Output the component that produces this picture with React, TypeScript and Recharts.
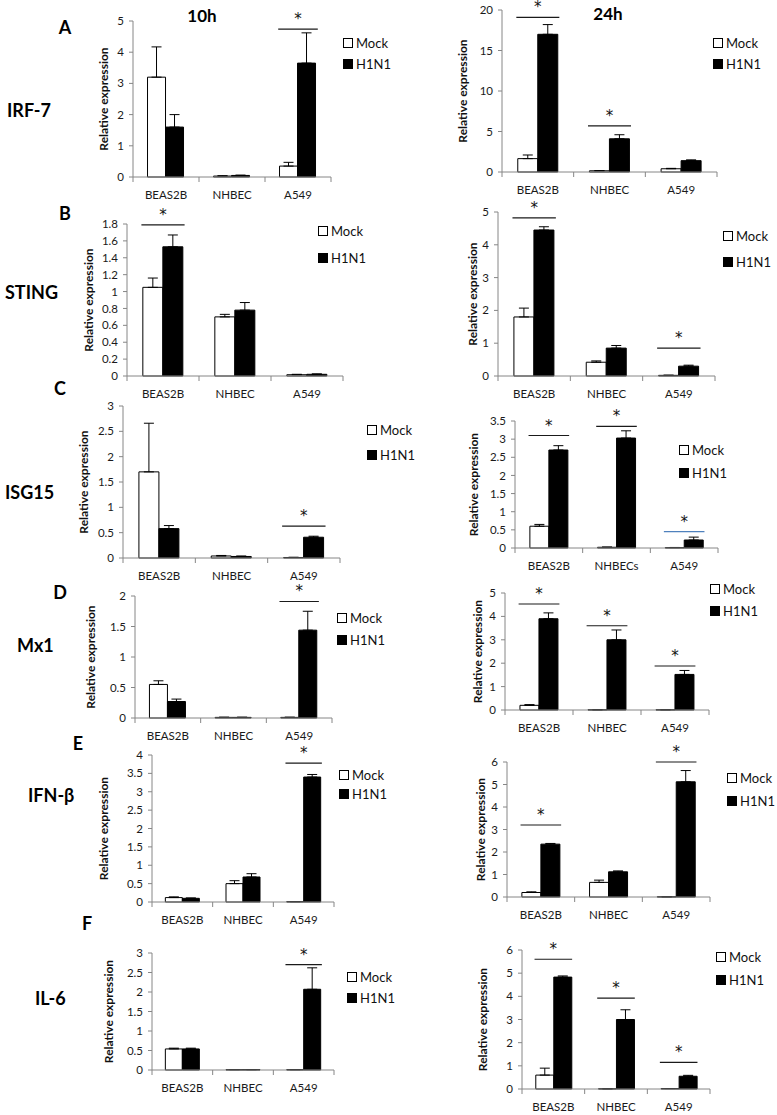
import React from 'react';
import { ComposedChart, Bar, ErrorBar, Scatter, XAxis, YAxis, Legend } from 'recharts';

const CELLS = ['BEAS2B', 'NHBEC', 'A549'];
const CELLS_S = ['BEAS2B', 'NHBECs', 'A549'];

// IRF-7
const irf7_10_mock = [3.2, 0.03, 0.35];
const irf7_10_mockErr = [0.97, 0.01, 0.12];
const irf7_10_h1n1 = [1.6, 0.05, 3.65];
const irf7_10_h1n1Err = [0.4, 0.01, 0.97];
const irf7_10_sig = [null, null, 4.74];
const irf7_24_mock = [1.65, 0.15, 0.4];
const irf7_24_mockErr = [0.45, 0.02, 0.05];
const irf7_24_h1n1 = [17.0, 4.1, 1.4];
const irf7_24_h1n1Err = [1.2, 0.5, 0.1];
const irf7_24_sig = [19.1, 5.7, null];

// STING
const sting_10_mock = [1.05, 0.7, 0.015];
const sting_10_mockErr = [0.11, 0.03, 0.005];
const sting_10_h1n1 = [1.53, 0.78, 0.02];
const sting_10_h1n1Err = [0.14, 0.09, 0.005];
const sting_10_sig = [1.79, null, null];
const sting_24_mock = [1.8, 0.42, 0.02];
const sting_24_mockErr = [0.27, 0.04, 0.005];
const sting_24_h1n1 = [4.45, 0.85, 0.3];
const sting_24_h1n1Err = [0.1, 0.08, 0.03];
const sting_24_sig = [4.82, null, 0.85];

// ISG15
const isg15_10_mock = [1.7, 0.04, 0.01];
const isg15_10_mockErr = [0.96, 0.01, 0.005];
const isg15_10_h1n1 = [0.58, 0.03, 0.41];
const isg15_10_h1n1Err = [0.06, 0.01, 0.02];
const isg15_10_sig = [null, null, 0.63];
const isg15_24_mock = [0.6, 0.02, 0.01];
const isg15_24_mockErr = [0.05, 0.005, 0.005];
const isg15_24_h1n1 = [2.7, 3.03, 0.22];
const isg15_24_h1n1Err = [0.12, 0.2, 0.08];
const isg15_24_sig = [3.1, 3.35, 0.45];

// Mx1
const mx1_10_mock = [0.55, 0.01, 0.01];
const mx1_10_mockErr = [0.06, 0.003, 0.003];
const mx1_10_h1n1 = [0.27, 0.01, 1.44];
const mx1_10_h1n1Err = [0.04, 0.003, 0.31];
const mx1_10_sig = [null, null, 1.91];
const mx1_24_mock = [0.2, 0.01, 0.01];
const mx1_24_mockErr = [0.03, 0, 0];
const mx1_24_h1n1 = [3.9, 3.0, 1.52];
const mx1_24_h1n1Err = [0.25, 0.42, 0.17];
const mx1_24_sig = [4.53, 3.6, 1.88];

// IFN-beta
const ifnb_10_mock = [0.12, 0.5, 0.01];
const ifnb_10_mockErr = [0.02, 0.08, 0];
const ifnb_10_h1n1 = [0.1, 0.68, 3.4];
const ifnb_10_h1n1Err = [0.01, 0.09, 0.07];
const ifnb_10_sig = [null, null, 3.78];
const ifnb_24_mock = [0.2, 0.65, 0.01];
const ifnb_24_mockErr = [0.03, 0.1, 0];
const ifnb_24_h1n1 = [2.35, 1.12, 5.12];
const ifnb_24_h1n1Err = [0.03, 0.04, 0.5];
const ifnb_24_sig = [3.2, null, 6.0];

// IL-6
const il6_10_mock = [0.54, 0.01, 0.01];
const il6_10_mockErr = [0.02, 0, 0];
const il6_10_h1n1 = [0.54, 0.01, 2.07];
const il6_10_h1n1Err = [0.02, 0, 0.55];
const il6_10_sig = [null, null, 2.7];
const il6_24_mock = [0.6, 0.01, 0.02];
const il6_24_mockErr = [0.3, 0, 0];
const il6_24_h1n1 = [4.83, 3.0, 0.55];
const il6_24_h1n1Err = [0.05, 0.42, 0.04];
const il6_24_sig = [5.6, 3.92, 1.15];

const TICKS_0_5 = [0, 1, 2, 3, 4, 5];
const TICKS_0_20 = [0, 5, 10, 15, 20];
const TICKS_0_18 = [0, 0.2, 0.4, 0.6, 0.8, 1, 1.2, 1.4, 1.6, 1.8];
const TICKS_0_3 = [0, 0.5, 1, 1.5, 2, 2.5, 3];
const TICKS_0_35 = [0, 0.5, 1, 1.5, 2, 2.5, 3, 3.5];
const TICKS_0_2 = [0, 0.5, 1, 1.5, 2];
const TICKS_0_4 = [0, 0.5, 1, 1.5, 2, 2.5, 3, 3.5, 4];
const TICKS_0_6 = [0, 1, 2, 3, 4, 5, 6];

const FONT = 'Lato, "DejaVu Sans", sans-serif';
const GRAY = '#868686';
const PAD_L = 70;
const PAD_T = 25;
const PAD_B = 34;
const PAD_R = 110;

const YLabel = ({ cx, cy }: any) => (
  <text
    x={cx}
    y={cy}
    transform={`rotate(-90 ${cx} ${cy})`}
    textAnchor="middle"
    dominantBaseline="central"
    fontSize={12}
    fontWeight="bold"
    fontFamily={FONT}
    fill="#111"
  >
    Relative expression
  </text>
);

const Panel = ({ geo, cats, mock, mockErr, h1n1, h1n1Err, sig, ticks, sigColors }: any) => {
  const plotW = geo.x1 - geo.x0;
  const plotH = geo.yBot - geo.yTop;
  const left = geo.x0 - PAD_L;
  const top = geo.yTop - PAD_T;
  const band = plotW / cats.length;
  const data = cats.map((cat: string, i: number) => ({
    cat,
    mock: mock[i],
    mockE: [0, mockErr[i]],
    h1n1: h1n1[i],
    h1n1E: [0, h1n1Err[i]],
    sig: sig[i],
  }));

  const renderTick = (p: any) => {
    const { x, y, payload, index } = p;
    return (
      <g>
        <line x1={x - band / 2} x2={x - band / 2} y1={y} y2={y + 5} stroke={GRAY} />
        {index === cats.length - 1 && (
          <line x1={x + band / 2} x2={x + band / 2} y1={y} y2={y + 5} stroke={GRAY} />
        )}
        <text x={x} y={y + 17} textAnchor="middle" dominantBaseline="central" fontSize={11.5} fontFamily={FONT} fill="#1a1a1a">
          {payload.value}
        </text>
      </g>
    );
  };

  const renderSig = (p: any) => {
    const { cx, cy, payload } = p;
    if (payload == null || payload.sig == null || cy == null || isNaN(cy)) return <g />;
    const i = cats.indexOf(payload.cat);
    const color = (sigColors && sigColors[i]) || '#1a1a1a';
    const half = band * 0.3;
    return (
      <g>
        <line x1={cx - half} x2={cx + half} y1={cy} y2={cy} stroke={color} strokeWidth={1.2} />
        <text x={cx} y={cy - 5} textAnchor="middle" fontSize={15} fontFamily='"DejaVu Sans", sans-serif' fill="#111">
          *
        </text>
      </g>
    );
  };

  const renderLegend = () => (
    <div style={{ position: 'relative', fontFamily: FONT, fontSize: 13, color: '#111', whiteSpace: 'nowrap' }}>
      {[
        { name: 'Mock', fill: '#fff', dy: 0 },
        { name: 'H1N1', fill: '#000', dy: geo.legendGap },
      ].map((it) => (
        <div key={it.name} style={{ position: 'absolute', left: 0, top: it.dy - 8, height: 16, lineHeight: '16px', display: 'flex', alignItems: 'center' }}>
          <span style={{ display: 'inline-block', width: 8, height: 8, border: '1px solid #000', background: it.fill, marginRight: 3 }} />
          {it.name}
        </div>
      ))}
    </div>
  );

  return (
    <div style={{ position: 'absolute', left, top }}>
      <ComposedChart
        width={PAD_L + plotW + PAD_R}
        height={PAD_T + plotH + PAD_B}
        data={data}
        margin={{ top: PAD_T, right: PAD_R, left: 0, bottom: 0 }}
        barGap={0}
        barCategoryGap="22%"
      >
        <XAxis
          dataKey="cat"
          height={PAD_B}
          interval={0}
          tickLine={false}
          tickSize={0}
          tickMargin={0}
          axisLine={{ stroke: GRAY }}
          tick={renderTick}
        />
        <YAxis
          width={PAD_L}
          domain={[0, ticks[ticks.length - 1]]}
          ticks={ticks}
          interval={0}
          tickSize={4}
          tickMargin={5}
          axisLine={{ stroke: GRAY }}
          tickLine={{ stroke: GRAY }}
          tick={{ fontSize: 11.5, fontFamily: FONT, fill: '#1a1a1a' }}
          label={<YLabel cx={geo.labelX - left} cy={PAD_T + plotH / 2} />}
        />
        <Legend
          content={renderLegend}
          wrapperStyle={{ left: geo.legendX - left, top: geo.legendY - top, width: 0, height: 0, overflow: 'visible' }}
        />
        <Bar dataKey="mock" fill="#fff" stroke="#000" strokeWidth={1} isAnimationActive={false}>
          <ErrorBar dataKey="mockE" direction="y" width={5} stroke="#000" strokeWidth={1} isAnimationActive={false} />
        </Bar>
        <Bar dataKey="h1n1" fill="#000" stroke="#000" strokeWidth={1} isAnimationActive={false}>
          <ErrorBar dataKey="h1n1E" direction="y" width={5} stroke="#000" strokeWidth={1} isAnimationActive={false} />
        </Bar>
        <Scatter dataKey="sig" shape={renderSig} legendType="none" isAnimationActive={false} />
      </ComposedChart>
    </div>
  );
};

const Txt = ({ x, y, size, children, center }: any) => (
  <div
    style={{
      position: 'absolute',
      left: x,
      top: y,
      transform: center ? 'translate(-50%, -50%)' : 'translate(0, -50%)',
      fontFamily: FONT,
      fontWeight: 'bold',
      fontSize: size,
      color: '#000',
      whiteSpace: 'nowrap',
      lineHeight: 1,
    }}
  >
    {children}
  </div>
);

export default function App() {
  return (
    <div style={{ position: 'absolute', left: 0, top: 0, width: 777, height: 1115, background: '#fff', overflow: 'hidden' }}>
      <Txt x={202} y={15} size={17} center>10h</Txt>
      <Txt x={608} y={13} size={17} center>24h</Txt>
      <Txt x={65} y={27} size={18} center>A</Txt>
      <Txt x={65} y={213} size={18} center>B</Txt>
      <Txt x={60} y={388} size={18} center>C</Txt>
      <Txt x={60} y={592} size={18} center>D</Txt>
      <Txt x={78} y={743} size={18} center>E</Txt>
      <Txt x={87} y={923} size={18} center>F</Txt>
      <Txt x={7} y={110} size={18}>IRF-7</Txt>
      <Txt x={5} y={292} size={18}>STING</Txt>
      <Txt x={5} y={492} size={18}>ISG15</Txt>
      <Txt x={17} y={645} size={18}>Mx1</Txt>
      <Txt x={28} y={795} size={18}>IFN-β</Txt>
      <Txt x={35} y={998} size={18}>IL-6</Txt>

      <Panel geo={{ x0: 133, x1: 331, yTop: 21, yBot: 177, legendX: 343, legendY: 43, legendGap: 21, labelX: 103 }}
        cats={CELLS} mock={irf7_10_mock} mockErr={irf7_10_mockErr} h1n1={irf7_10_h1n1} h1n1Err={irf7_10_h1n1Err} sig={irf7_10_sig} ticks={TICKS_0_5} />
      <Panel geo={{ x0: 502, x1: 717, yTop: 10, yBot: 172, legendX: 713, legendY: 43, legendGap: 21, labelX: 462 }}
        cats={CELLS} mock={irf7_24_mock} mockErr={irf7_24_mockErr} h1n1={irf7_24_h1n1} h1n1Err={irf7_24_h1n1Err} sig={irf7_24_sig} ticks={TICKS_0_20} />

      <Panel geo={{ x0: 127, x1: 343, yTop: 224, yBot: 376, legendX: 318, legendY: 231, legendGap: 27, labelX: 88 }}
        cats={CELLS} mock={sting_10_mock} mockErr={sting_10_mockErr} h1n1={sting_10_h1n1} h1n1Err={sting_10_h1n1Err} sig={sting_10_sig} ticks={TICKS_0_18} />
      <Panel geo={{ x0: 498, x1: 715, yTop: 212, yBot: 376, legendX: 723, legendY: 236, legendGap: 26, labelX: 472 }}
        cats={CELLS} mock={sting_24_mock} mockErr={sting_24_mockErr} h1n1={sting_24_h1n1} h1n1Err={sting_24_h1n1Err} sig={sting_24_sig} ticks={TICKS_0_5} />

      <Panel geo={{ x0: 123, x1: 340, yTop: 406, yBot: 558, legendX: 367, legendY: 430, legendGap: 25, labelX: 83 }}
        cats={CELLS} mock={isg15_10_mock} mockErr={isg15_10_mockErr} h1n1={isg15_10_h1n1} h1n1Err={isg15_10_h1n1Err} sig={isg15_10_sig} ticks={TICKS_0_3} />
      <Panel geo={{ x0: 515, x1: 718, yTop: 421, yBot: 548, legendX: 679, legendY: 450, legendGap: 23, labelX: 473 }}
        cats={CELLS_S} mock={isg15_24_mock} mockErr={isg15_24_mockErr} h1n1={isg15_24_h1n1} h1n1Err={isg15_24_h1n1Err} sig={isg15_24_sig} ticks={TICKS_0_35}
        sigColors={[null, null, '#4f81bd']} />

      <Panel geo={{ x0: 135, x1: 332, yTop: 596, yBot: 718, legendX: 337, legendY: 618, legendGap: 22, labelX: 90 }}
        cats={CELLS} mock={mx1_10_mock} mockErr={mx1_10_mockErr} h1n1={mx1_10_h1n1} h1n1Err={mx1_10_h1n1Err} sig={mx1_10_sig} ticks={TICKS_0_2} />
      <Panel geo={{ x0: 505, x1: 709, yTop: 593, yBot: 710, legendX: 710, legendY: 589, legendGap: 22, labelX: 477 }}
        cats={CELLS} mock={mx1_24_mock} mockErr={mx1_24_mockErr} h1n1={mx1_24_h1n1} h1n1Err={mx1_24_h1n1Err} sig={mx1_24_sig} ticks={TICKS_0_5} />

      <Panel geo={{ x0: 152, x1: 334, yTop: 755, yBot: 902, legendX: 339, legendY: 775, legendGap: 19, labelX: 103 }}
        cats={CELLS} mock={ifnb_10_mock} mockErr={ifnb_10_mockErr} h1n1={ifnb_10_h1n1} h1n1Err={ifnb_10_h1n1Err} sig={ifnb_10_sig} ticks={TICKS_0_4} />
      <Panel geo={{ x0: 507, x1: 710, yTop: 762, yBot: 897, legendX: 727, legendY: 778, legendGap: 23, labelX: 480 }}
        cats={CELLS} mock={ifnb_24_mock} mockErr={ifnb_24_mockErr} h1n1={ifnb_24_h1n1} h1n1Err={ifnb_24_h1n1Err} sig={ifnb_24_sig} ticks={TICKS_0_6} />

      <Panel geo={{ x0: 152, x1: 334, yTop: 953, yBot: 1070, legendX: 347, legendY: 977, legendGap: 21, labelX: 108 }}
        cats={CELLS} mock={il6_10_mock} mockErr={il6_10_mockErr} h1n1={il6_10_h1n1} h1n1Err={il6_10_h1n1Err} sig={il6_10_sig} ticks={TICKS_0_3} />
      <Panel geo={{ x0: 522, x1: 710, yTop: 950, yBot: 1089, legendX: 716, legendY: 957, legendGap: 23, labelX: 482 }}
        cats={CELLS} mock={il6_24_mock} mockErr={il6_24_mockErr} h1n1={il6_24_h1n1} h1n1Err={il6_24_h1n1Err} sig={il6_24_sig} ticks={TICKS_0_6} />
    </div>
  );
}
